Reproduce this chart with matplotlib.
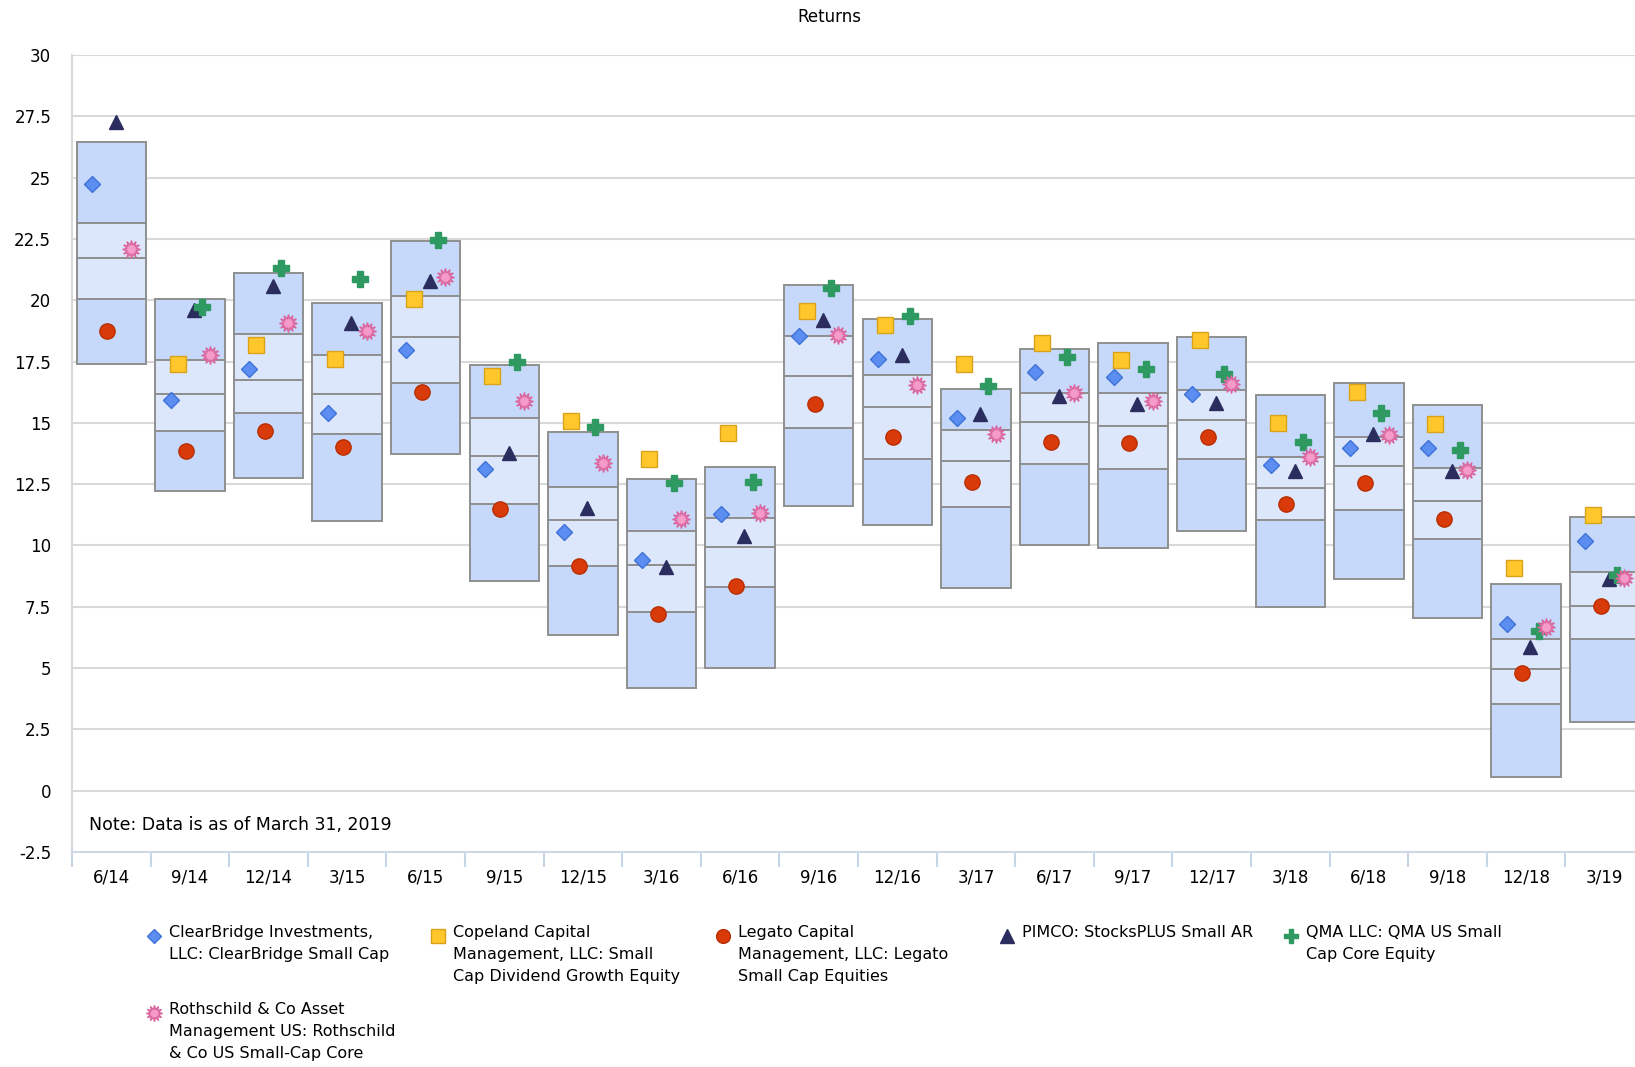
import matplotlib
matplotlib.use('Agg')
import matplotlib.pyplot as plt
from matplotlib.lines import Line2D
import numpy as np

plt.rcParams['font.family'] = ['DejaVu Sans']

# 季度
periods = ['6/14', '9/14', '12/14', '3/15', '6/15', '9/15', '12/15', '3/16', '6/16', '9/16',
           '12/16', '3/17', '6/17', '9/17', '12/17', '3/18', '6/18', '9/18', '12/18', '3/19']

# universe percentiles (5th / 25th / median / 75th / 95th)
p5 = [26.45, 20.06, 21.12, 19.88, 22.43, 17.35, 14.63, 12.69, 13.21, 20.62,
      19.23, 16.40, 18.03, 18.25, 18.51, 16.12, 16.64, 15.74, 8.42, 11.17]
p25 = [23.14, 17.56, 18.63, 17.78, 20.17, 15.20, 12.39, 10.61, 11.12, 18.54,
       16.95, 14.72, 16.21, 16.23, 16.34, 13.60, 14.42, 13.14, 6.18, 8.93]
median = [21.72, 16.18, 16.76, 16.18, 18.52, 13.63, 11.02, 9.22, 9.95, 16.89,
          15.66, 13.44, 15.03, 14.86, 15.13, 12.34, 13.22, 11.82, 4.98, 7.54]
p75 = [20.07, 14.65, 15.39, 14.53, 16.64, 11.69, 9.15, 7.28, 8.29, 14.78,
       13.51, 11.57, 13.33, 13.11, 13.52, 11.03, 11.46, 10.25, 3.52, 6.18]
p95 = [17.38, 12.21, 12.76, 10.99, 13.74, 8.55, 6.33, 4.20, 5.02, 11.61,
       10.85, 8.26, 10.01, 9.91, 10.58, 7.51, 8.63, 7.05, 0.55, 2.80]

# managers
clearbridge = [24.75, 15.93, 17.21, 15.41, 17.99, 13.12, 10.54, 9.39, 11.30, 18.56,
               17.61, 15.18, 17.08, 16.85, 16.19, 13.28, 13.96, 13.98, 6.81, 10.17]
copeland = [np.nan, 17.41, 18.17, 17.59, 20.06, 16.92, 15.06, 13.52, 14.60, 19.58,
            18.99, 17.38, 18.25, 17.57, 18.37, 15.01, 16.26, 14.97, 9.10, 11.26]
legato = [18.74, 13.85, 14.67, 14.00, 16.24, 11.49, 9.15, 7.21, 8.36, 15.77,
          14.43, 12.60, 14.20, 14.16, 14.42, 11.68, 12.53, 11.08, 4.78, 7.54]
pimco = [27.25, 19.60, 20.58, 19.07, 20.78, 13.75, 11.53, 9.11, 10.37, 19.20,
         17.77, 15.35, 16.10, 15.76, 15.82, 13.03, 14.53, 13.03, 5.86, 8.64]
qma = [np.nan, 19.71, 21.31, 20.87, 22.46, 17.50, 14.82, 12.53, 12.58, 20.50,
       19.35, 16.51, 17.69, 17.21, 16.98, 14.23, 15.42, 13.89, 6.52, 8.78]
rothschild = [22.08, 17.78, 19.08, 18.74, 20.93, 15.89, 13.37, 11.06, 11.33, 18.58,
              16.53, 14.53, 16.23, 15.91, 16.60, 13.60, 14.49, 13.06, 6.69, 8.67]

labels = ['ClearBridge Investments,\nLLC: ClearBridge Small Cap',
          'Copeland Capital\nManagement, LLC: Small\nCap Dividend Growth Equity',
          'Legato Capital\nManagement, LLC: Legato\nSmall Cap Equities',
          'PIMCO: StocksPLUS Small AR',
          'QMA LLC: QMA US Small\nCap Core Equity',
          'Rothschild & Co Asset\nManagement US: Rothschild\n& Co US Small-Cap Core']

series = [clearbridge, copeland, legato, pimco, qma, rothschild]
styles = [
    dict(marker='D', ms=8, mfc='#5B8EF0', mec='#3F72D8'),
    dict(marker='s', ms=11, mfc='#FFC72C', mec='#D9A21B'),
    dict(marker='o', ms=11, mfc='#D93A0A', mec='#B82E00'),
    dict(marker='^', ms=10.5, mfc='#2B2D5F', mec='#2B2D5F'),
    dict(marker='P', ms=11.5, mfc='#2E9A62', mec='#2E9A62'),
    dict(marker=(12, 1, 0), ms=13, mfc='#F59AC9', mec='#D9669E'),
]
offsets = [-0.245, -0.155, -0.05, 0.055, 0.16, 0.25]

fig = plt.figure(figsize=(16.35, 10.67), dpi=100)
ax = fig.add_axes([72 / 1635, 1 - 852 / 1067, 1572 / 1635, (852 - 55) / 1067])

x = np.arange(len(periods))
p5 = np.array(p5); p25 = np.array(p25); median = np.array(median)
p75 = np.array(p75); p95 = np.array(p95)

outer = '#C6D9FA'
inner = '#DDE7FC'
edge = '#8F8F8F'
w = 0.885
ax.bar(x, p5 - p25, bottom=p25, width=w, color=outer, edgecolor=edge, linewidth=1.4, zorder=2)
ax.bar(x, p25 - median, bottom=median, width=w, color=inner, edgecolor=edge, linewidth=1.4, zorder=2)
ax.bar(x, median - p75, bottom=p75, width=w, color=inner, edgecolor=edge, linewidth=1.4, zorder=2)
ax.bar(x, p75 - p95, bottom=p95, width=w, color=outer, edgecolor=edge, linewidth=1.4, zorder=2)

for vals, st, off in zip(series, styles, offsets):
    ax.plot(x + off, vals, linestyle='none', mew=1, zorder=3, **st)

ax.set_ylim(-2.5, 30)
ax.set_xlim(-0.5, len(periods) - 0.5)
ax.set_yticks(np.arange(-2.5, 30.1, 2.5))
ax.set_yticklabels(['-2.5', '0', '2.5', '5', '7.5', '10', '12.5', '15', '17.5', '20',
                    '22.5', '25', '27.5', '30'])
ax.grid(axis='y', color='#D9D9D9', linewidth=1.5, zorder=0)
ax.set_axisbelow(True)
ax.set_xticks(x)
ax.set_xticklabels(periods)
ax.set_xticks(np.arange(-0.5, len(periods), 1), minor=True)
ax.tick_params(axis='x', which='major', length=0, pad=12, labelsize=12)
ax.tick_params(axis='x', which='minor', length=11, width=1.5, color='#C6D4E8')
ax.tick_params(axis='y', length=0, pad=15, labelsize=12)

for s in ['top', 'right']:
    ax.spines[s].set_visible(False)
ax.spines['left'].set_color('#D9D9D9')
ax.spines['left'].set_linewidth(1.5)
ax.spines['bottom'].set_color('#D0D8E4')
ax.spines['bottom'].set_linewidth(1.5)

ax.text(-0.29, -1.4, 'Note: Data is as of March 31, 2019', fontsize=12.5, ha='left', va='center')

fig.text(829 / 1635, 1 - 17 / 1067, 'Returns', fontsize=12, ha='center', va='center')

# legend drawn by hand, row-major like the original
col_x = [154, 438, 723, 1007, 1291]
pos = [(col_x[0], 936), (col_x[1], 936), (col_x[2], 936), (col_x[3], 936), (col_x[4], 936),
       (col_x[0], 1013)]
for (px, py), st, lab in zip(pos, styles, labels):
    st2 = dict(st)
    st2['ms'] = st['ms'] * 0.9
    fig.add_artist(Line2D([px / 1635], [1 - py / 1067], transform=fig.transFigure,
                          linestyle='none', mew=1, **st2))
    fig.text((px + 15) / 1635, 1 - (py - 11) / 1067, lab, fontsize=11.5, ha='left', va='top',
             linespacing=1.58)

fig.savefig('out.png', dpi=100)
